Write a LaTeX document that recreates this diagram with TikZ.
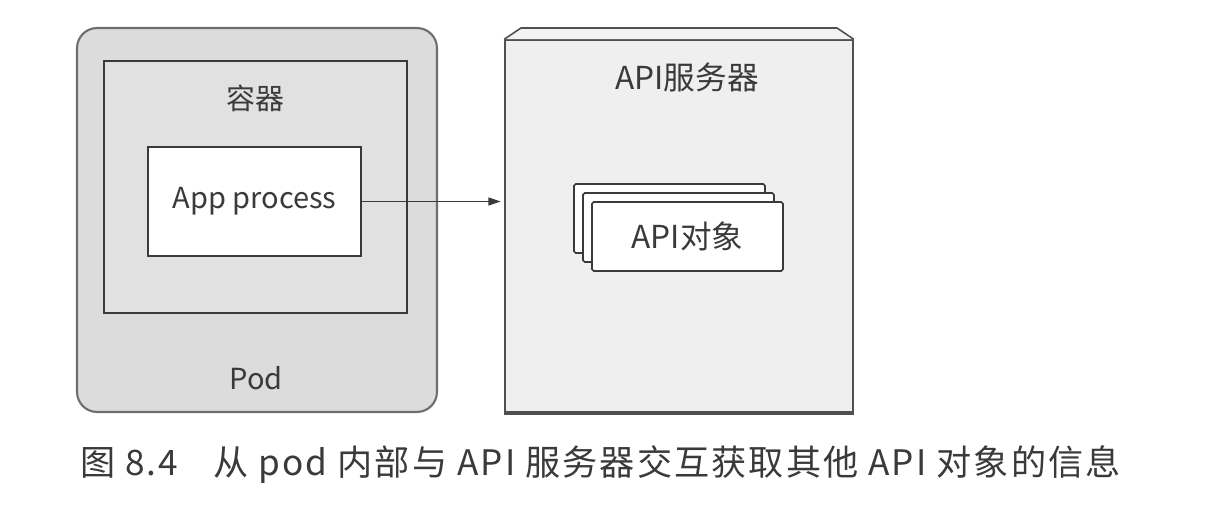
\documentclass[tikz,border=0pt]{standalone}
\usepackage{fontspec}
\setmainfont{Noto Sans CJK SC}
\newfontfamily\capfont[LetterSpace=6]{Noto Sans CJK SC}
\usetikzlibrary{arrows.meta}
\definecolor{inkgray}{HTML}{3A3A3A}
\definecolor{podline}{HTML}{6E6E6E}
\definecolor{podfill}{HTML}{DCDCDC}
\definecolor{ctrfill}{HTML}{E1E1E1}
\definecolor{srvline}{HTML}{505050}
\definecolor{srvfill}{HTML}{EFEFEF}
\definecolor{srvtop}{HTML}{F3F3F3}

\begin{document}
\begin{tikzpicture}[x=0.02cm, y=-0.02cm, every node/.style={text=inkgray},
  podbox/.style={draw=podline, fill=podfill, line width=1.2pt, rounded corners=0.4cm, minimum width=7.2cm, minimum height=7.68cm},
  ctrbox/.style={draw=inkgray, fill=ctrfill, line width=1.1pt, minimum width=6.06cm, minimum height=5.04cm},
  appbox/.style={draw=inkgray, fill=white, line width=0.9pt, minimum width=4.26cm, minimum height=2.18cm},
  srvbox/.style={draw=srvline, fill=srvfill, line width=0.9pt, minimum width=6.96cm, minimum height=7.44cm},
  objbox/.style={draw=inkgray, fill=white, line width=0.9pt, rounded corners=1pt, minimum width=3.82cm, minimum height=1.38cm},
  big/.style={font=\fontsize{18}{20}\selectfont},
  mid/.style={font=\fontsize{16.5}{18}\selectfont}]
  \fill[white] (0,0) rectangle (1224,506);
  \useasboundingbox (0,0) rectangle (1224,506);

  \node[podbox] (pod) at (257,220) {};
  \node[ctrbox] (ctr) at (255.5,187) {};
  \node[appbox, mid] (app) at (254.5,201.5) {App process};
  \node[mid] (ctrlabel) at (255,98) {容器};
  \node[mid] (podlabel) at (256,378) {Pod};

  \node[srvbox] (srv) at (679,226) {};
  \filldraw[draw=srvline, fill=srvtop, line width=0.9pt] (srv.north west) -- (521,28) -- (837,28) -- (srv.north east);
  \draw[srvline, line width=2pt] (srv.south west) -- (srv.south east);
  \node[big] (srvlabel) at (687,77) {API服务器};

  \foreach \d in {18,9}
    \node[objbox] (obj\d) at ({687.5-\d},{236.5-\d}) {};
  \node[objbox, big] (obj) at (687.5,236.5) {API对象};

  \draw[inkgray, line width=0.8pt, -{Triangle[length=7pt, width=4.5pt]}, shorten >=2pt] (app.east) -- (app.east -| srv.west);

  \node[anchor=west, font=\capfont\fontsize{20}{22}\selectfont] (caption) at (74,465) {图 8.4\hspace{1em}从 pod 内部与 API 服务器交互获取其他 API 对象的信息};
\end{tikzpicture}
\end{document}
